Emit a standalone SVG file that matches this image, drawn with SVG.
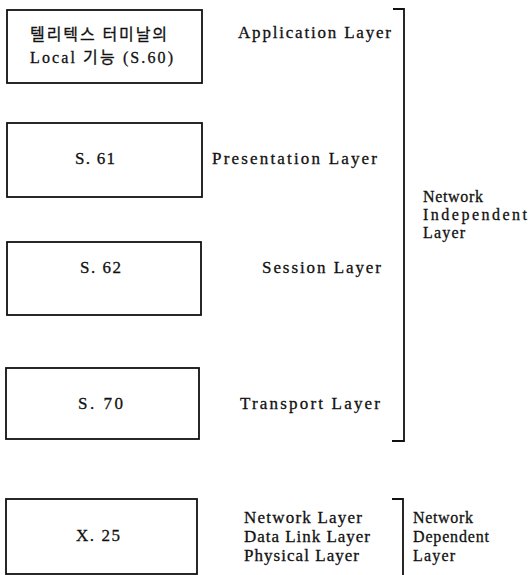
<svg xmlns="http://www.w3.org/2000/svg" width="528" height="575" viewBox="0 0 528 575">
  <style>
    .box { fill: #ffffff; stroke: #111111; stroke-width: 1.8; }
    .br { fill: none; stroke: #111111; stroke-width: 1.8; }
    text { font-family: "Liberation Serif", "DejaVu Serif", "Times New Roman", "Noto Sans CJK KR", serif; font-size: 17px; fill: #111111; stroke: #111111; stroke-width: 0.3; }
    .kr { font-size: 16px; }
    .grp { font-size: 16px; }
  </style>
  <rect width="528" height="575" fill="#ffffff"/>

  <!-- protocol stack boxes -->
  <g id="node-s60">
    <rect class="box" x="7" y="10" width="195" height="73"/>
    <text class="kr" x="30" y="40" textLength="137" lengthAdjust="spacing">텔리텍스 터미날의</text>
    <text class="kr" x="30" y="63" textLength="143" lengthAdjust="spacing">Local 기능 (S.60)</text>
  </g>
  <g id="node-s61">
    <rect class="box" x="7" y="123" width="195" height="74"/>
    <text x="75" y="164" textLength="40" lengthAdjust="spacing">S. 61</text>
  </g>
  <g id="node-s62">
    <rect class="box" x="7" y="242" width="194" height="73"/>
    <text x="80" y="273" textLength="41" lengthAdjust="spacing">S. 62</text>
  </g>
  <g id="node-s70">
    <rect class="box" x="6" y="368" width="193" height="71"/>
    <text x="78" y="409" textLength="45" lengthAdjust="spacing">S. 70</text>
  </g>
  <g id="node-x25">
    <rect class="box" x="6" y="499" width="191" height="75"/>
    <text x="76" y="541" textLength="44" lengthAdjust="spacing">X. 25</text>
  </g>

  <!-- layer names -->
  <g id="layer-names">
    <text x="238" y="38" textLength="153" lengthAdjust="spacing">Application Layer</text>
    <text x="212" y="164" textLength="165" lengthAdjust="spacing">Presentation Layer</text>
    <text x="262" y="273" textLength="119" lengthAdjust="spacing">Session Layer</text>
    <text x="240" y="409" textLength="140" lengthAdjust="spacing">Transport Layer</text>
    <text x="244" y="523" textLength="118" lengthAdjust="spacing">Network Layer</text>
    <text x="244" y="542" textLength="126" lengthAdjust="spacing">Data Link Layer</text>
    <text x="244" y="561" textLength="115" lengthAdjust="spacing">Physical Layer</text>
  </g>

  <!-- grouping brackets -->
  <g id="connectors">
    <path class="br" d="M393 9 H404 V441 H392"/>
    <path class="br" d="M392 499 H403 V575"/>
  </g>

  <g id="group-labels">
    <text class="grp" x="423" y="202" textLength="60" lengthAdjust="spacing">Network</text>
    <text class="grp" x="423" y="220" textLength="104" lengthAdjust="spacing">Independent</text>
    <text class="grp" x="423" y="238" textLength="42" lengthAdjust="spacing">Layer</text>
    <text class="grp" x="413" y="523" textLength="60" lengthAdjust="spacing">Network</text>
    <text class="grp" x="413" y="542" textLength="76" lengthAdjust="spacing">Dependent</text>
    <text class="grp" x="413" y="561" textLength="42" lengthAdjust="spacing">Layer</text>
  </g>
</svg>
